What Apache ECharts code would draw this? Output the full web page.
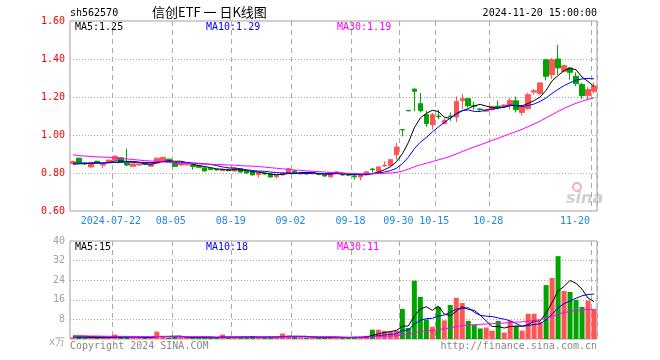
<!DOCTYPE html>
<html><head><meta charset="utf-8">
<script src="https://cdn.jsdelivr.net/npm/echarts@6/dist/echarts.min.js"></script>
<style>html,body{margin:0;padding:0;background:#fff}#c{width:660px;height:360px}</style>
</head><body><div id="c"></div>
<script>
const dates = ['07-11','07-12','07-15','07-16','07-17','07-18','07-19','07-22','07-23','07-24','07-25','07-26','07-29','07-30','07-31',
'08-01','08-02','08-05','08-06','08-07','08-08','08-09','08-12','08-13','08-14','08-15','08-16','08-19','08-20','08-21','08-22','08-23','08-26','08-27','08-28','08-29','08-30',
'09-02','09-03','09-04','09-05','09-06','09-09','09-10','09-11','09-12','09-13','09-18','09-19','09-20','09-23','09-24','09-25','09-26','09-27','09-30',
'10-08','10-09','10-10','10-11','10-14','10-15','10-16','10-17','10-18','10-21','10-22','10-23','10-24','10-25','10-28','10-29','10-30','10-31',
'11-01','11-04','11-05','11-06','11-07','11-08','11-11','11-12','11-13','11-14','11-15','11-18','11-19','11-20'];

const openP = [.850,.878,.853,.832,.862,.842,.855,.869,.880,.853, .835,.842,.852,.836,.852,.862,.873,.852,.842,.843,
.843,.837,.827,.825,.818,.812,.820,.810,.822,.808, .805,.792,.800,.796,.780,.790,.801,.811,.795,.800,
.796,.798,.790,.780,.797,.796,.792,.785,.779,.791, .821,.809,.837,.839,.896,1.029,1.129,1.242,1.165,1.107,
1.054,1.100,1.060,1.100,1.095,1.182,1.191,1.154,1.137,1.125, 1.133,1.152,1.151,1.154,1.180,1.119,1.139,1.226,1.218,1.396,
1.317,1.400,1.335,1.353,1.309,1.265,1.207,1.230];
const closeP = [.860,.855,.848,.856,.853,.848,.868,.888,.858,.842, .848,.848,.846,.848,.878,.882,.865,.835,.848,.847,
.834,.830,.811,.818,.816,.820,.812,.826,.805,.800, .790,.804,.795,.779,.789,.800,.822,.797,.800,.795,
.800,.792,.784,.801,.806,.790,.788,.780,.791,.806, .818,.832,.840,.870,.937,1.027,1.127,1.230,1.128,1.060,
1.107,1.096,1.077,1.096,1.177,1.191,1.154,1.151,1.133,1.133, 1.151,1.149,1.158,1.182,1.133,1.147,1.212,1.233,1.274,1.309,
1.396,1.353,1.365,1.330,1.270,1.207,1.239,1.258];
const lowP = [.848,.852,.842,.828,.850,.826,.852,.866,.855,.835, .832,.840,.842,.834,.850,.860,.862,.832,.840,.841,
.817,.828,.808,.815,.813,.810,.810,.808,.803,.797, .787,.776,.790,.776,.771,.786,.798,.795,.792,.792,
.793,.788,.780,.777,.795,.785,.784,.765,.761,.789, .803,.795,.832,.836,.870,.993,1.127,1.125,1.119,1.042,
1.028,1.084,1.056,1.075,1.067,1.137,1.145,1.133,1.128,1.120, 1.130,1.135,1.148,1.135,1.119,1.102,1.133,1.212,1.212,1.288,
1.295,1.317,1.330,1.291,1.258,1.189,1.182,1.218];
const highP = [.865,.880,.856,.858,.864,.850,.870,.892,.882,.928, .850,.850,.854,.850,.880,.885,.875,.853,.850,.849,
.845,.840,.830,.826,.820,.823,.822,.828,.824,.810, .807,.806,.802,.798,.792,.802,.825,.813,.803,.802,
.802,.800,.792,.803,.808,.798,.794,.800,.795,.809, .826,.835,.861,.872,.958,1.029,1.129,1.243,1.221,1.128,
1.116,1.133,1.089,1.119,1.203,1.218,1.195,1.175,1.142,1.137, 1.153,1.182,1.160,1.195,1.203,1.159,1.221,1.242,1.277,1.400,
1.405,1.475,1.370,1.358,1.330,1.274,1.251,1.277];

const volume = [0.7,0.9,0.5,0.6,0.5,0.5,0.6,1.8,0.8,0.9, 0.6,0.5,0.4,0.5,3.0,0.9,0.6,0.8,0.6,0.5,
0.6,0.6,0.7,0.5,0.5,1.8,0.6,0.7,0.6,0.7, 1.2,0.7,0.6,0.7,0.6,2.2,1.4,0.8,0.6,0.5,
0.6,0.5,0.5,0.8,0.7,0.5,0.5,0.9,0.9,1.3, 3.8,3.8,3.3,3.0,3.5,12.3,4.5,23.8,17.2,8.0,
5.0,13.1,7.6,13.9,16.8,14.7,7.4,5.7,4.3,4.7, 3.4,7.4,2.6,7.4,5.4,3.4,10.3,10.3,7.0,22.0,
24.9,33.8,19.6,19.2,16.0,13.1,15.7,12.3];

const ma5 = [.846,.848,.850,.851,.854,.852,.855,.863,.863,.861, .861,.857,.848,.846,.854,.860,.864,.862,.862,.855,
.846,.839,.834,.828,.822,.819,.815,.818,.816,.813, .807,.805,.799,.794,.791,.793,.797,.797,.802,.803,
.803,.797,.794,.794,.797,.795,.794,.793,.791,.791, .797,.805,.817,.833,.859,.901,.960,1.038,1.090,1.114,
1.130,1.124,1.094,1.087,1.111,1.127,1.139,1.154,1.161,1.152, 1.144,1.143,1.145,1.155,1.155,1.154,1.166,1.181,1.200,1.235,
1.285,1.313,1.339,1.351,1.343,1.305,1.282,1.255];
const ma10 = [.852,.852,.851,.851,.852,.853,.854,.855,.856,.858, .856,.856,.856,.855,.857,.861,.860,.855,.854,.855,
.853,.851,.848,.845,.839,.832,.827,.826,.822,.817, .813,.810,.809,.805,.802,.800,.801,.798,.798,.797,
.798,.797,.796,.798,.800,.799,.795,.794,.793,.794, .796,.800,.805,.812,.825,.849,.883,.928,.962,.987,
1.016,1.042,1.066,1.089,1.113,1.129,1.132,1.124,1.124,1.132, 1.136,1.141,1.149,1.158,1.154,1.149,1.155,1.163,1.177,1.195,
1.219,1.240,1.260,1.275,1.289,1.295,1.298,1.295];
const ma30 = [.896,.891,.889,.887,.885,.884,.882,.880,.877,.874, .871,.868,.865,.863,.861,.858,.856,.853,.852,.851,
.850,.848,.847,.846,.845,.844,.842,.841,.839,.837, .836,.834,.831,.828,.825,.822,.819,.816,.814,.811,
.809,.807,.805,.803,.802,.800,.798,.797,.796,.796, .796,.797,.798,.800,.803,.810,.820,.833,.843,.851,
.860,.869,.878,.888,.900,.913,.925,.937,.948,.960, .972,.983,.995,1.007,1.018,1.030,1.044,1.058,1.073,1.090,
1.107,1.124,1.140,1.154,1.167,1.178,1.188,1.195];

const vma5 = [.8,.75,.7,.65,.64,.6,.54,.8,.84,.92, .94,.92,.64,.58,1.0,1.06,1.08,1.16,1.18,.68,
.62,.62,.6,.58,.58,.82,.82,.82,.84,.88, .76,.78,.76,.78,.76,.96,1.1,1.14,1.12,1.1,
.78,.6,.54,.58,.62,.6,.6,.68,.7,.82, 1.48,2.14,2.62,3.04,3.48,5.18,5.32,9.42,12.26,13.16,
11.7,13.42,10.18,9.52,11.28,13.22,12.08,11.7,9.78,7.36, 5.1,5.1,4.48,5.1,5.24,5.24,5.82,7.36,7.28,10.6,
14.9,19.6,21.46,23.9,22.7,20.34,16.72,15.26];
const vma10 = [1.2,1.15,1.1,1.0,.95,.9,.85,.85,.8,.78, .77,.73,.72,.71,.96,1.0,1.0,.9,.88,.84,
.84,.85,.88,.88,.63,.72,.72,.71,.71,.73, .79,.8,.79,.81,.82,.86,.94,.95,.95,.93,
.87,.85,.84,.85,.86,.69,.6,.61,.64,.72, 1.04,1.37,1.65,1.87,2.15,3.33,3.73,6.02,7.65,8.32,
8.44,9.37,9.8,10.89,12.22,12.46,12.75,10.94,9.65,9.32, 9.16,8.59,8.09,7.44,6.3,5.17,5.46,5.92,6.19,7.92,
10.07,12.71,14.41,15.59,16.65,17.62,18.16,18.36];
const vma30 = [1.3,1.3,1.25,1.2,1.2,1.15,1.1,1.1,1.1,1.05, 1.05,1.0,1.0,1.0,1.0,.95,.95,.9,.9,.9,
.88,.86,.85,.84,.82,.82,.8,.8,.79,.78, .8,.79,.8,.8,.8,.86,.89,.85,.85,.83,
.83,.83,.84,.85,.77,.76,.75,.76,.77,.79, .9,1.01,1.09,1.18,1.28,1.63,1.76,2.53,3.08,3.32,
3.45,3.86,4.1,4.54,5.08,5.49,5.69,5.86,5.98,6.12, 6.21,6.44,6.51,6.73,6.89,6.99,7.31,7.63,7.83,8.52,
9.22,10.22,10.77,11.31,11.72,11.75,12.12,11.74];

const tickDates = ['07-22','08-05','08-19','09-02','09-18','09-30','10-15','10-28','11-20'];
const tickTexts = ['2024-07-22','08-05','08-19','09-02','09-18','09-30','10-15','10-28','11-20'];

const RED = '#ff5555', GREEN = '#00a400';
const MONO = '"DejaVu Sans Mono", monospace';
const fl2 = v => (Math.floor(v * 100 + 1e-6) / 100).toFixed(2);
const fl0 = v => String(Math.floor(v));

const chart = echarts.init(document.getElementById('c'), null, {renderer: 'canvas'});
const isTick = (i, v) => tickDates.indexOf(v) >= 0;
const splitV = {show: true, interval: isTick, lineStyle: {type: [5, 4], color: '#aaaaaa', width: 1}};
const splitH = {show: true, showMinLine: false, showMaxLine: false, lineStyle: {type: [1, 2], color: '#aaaaaa', width: 1}};

const labelStyle = {fontFamily: MONO, fontSize: 10, color: '#2288dd'};
const volLabel = {fontFamily: MONO, fontSize: 10, color: '#a0a0a0'};

const option = {
  animation: false,
  backgroundColor: '#fff',
  grid: [
    {left: 70, top: 21, width: 527, height: 190, show: true, borderColor: '#a0a0a0', borderWidth: 1, backgroundColor: 'transparent'},
    {left: 70, top: 241, width: 527, height: 98, show: true, borderColor: '#a0a0a0', borderWidth: 1, backgroundColor: 'transparent'}
  ],
  xAxis: [
    {type: 'category', gridIndex: 0, data: dates, boundaryGap: true,
     axisLine: {show: false}, axisTick: {show: false}, splitLine: splitV,
     axisLabel: {interval: isTick, margin: 5, fontFamily: MONO, fontSize: 10, color: '#2288dd',
       formatter: v => {
         const k = tickDates.indexOf(v);
         return k === tickDates.length - 1 ? '{e|' + tickTexts[k] + '}' : '{n|' + tickTexts[k] + '}';
       },
       rich: {n: Object.assign({padding: [0, 8, 0, 0]}, labelStyle), e: Object.assign({padding: [0, 38, 0, 0]}, labelStyle)}}},
    {type: 'category', gridIndex: 1, data: dates, boundaryGap: true,
     axisLine: {show: false}, axisTick: {show: false}, axisLabel: {show: false}, splitLine: splitV}
  ],
  yAxis: [
    {type: 'value', gridIndex: 0, min: 0.6, max: 1.6, interval: 0.2, scale: false,
     axisLine: {show: false}, axisTick: {show: false}, splitLine: splitH,
     axisLabel: {margin: 5, color: '#ff0000', fontFamily: MONO, fontSize: 10, formatter: v => v.toFixed(2)}},
    {type: 'value', gridIndex: 1, min: 0, max: 40, interval: 8,
     axisLine: {show: false}, axisTick: {show: false}, splitLine: splitH,
     axisLabel: {margin: 5, color: '#a0a0a0', fontFamily: MONO, fontSize: 10,
       formatter: v => v === 0 ? '{z|x万}' : '{v|' + v + '}',
       rich: {z: Object.assign({padding: [6, 0, 0, 0]}, volLabel), v: volLabel}}}
  ],
  series: [
    {type: 'candlestick', xAxisIndex: 0, yAxisIndex: 0, barWidth: 5,
     data: dates.map((d, i) => [openP[i], closeP[i], lowP[i], highP[i]]),
     itemStyle: {color: RED, color0: GREEN, borderColor: RED, borderColor0: GREEN, borderWidth: 1}},
    {type: 'line', xAxisIndex: 0, yAxisIndex: 0, data: ma5, symbol: 'none', lineStyle: {color: '#000', width: 1}},
    {type: 'line', xAxisIndex: 0, yAxisIndex: 0, data: ma10, symbol: 'none', lineStyle: {color: '#0000ff', width: 1}},
    {type: 'line', xAxisIndex: 0, yAxisIndex: 0, data: ma30, symbol: 'none', lineStyle: {color: '#ff00ff', width: 1}},
    {type: 'bar', xAxisIndex: 1, yAxisIndex: 1, barWidth: 5,
     data: volume.map((v, i) => ({value: v, itemStyle: {color: closeP[i] > openP[i] ? RED : GREEN}}))},
    {type: 'line', xAxisIndex: 1, yAxisIndex: 1, data: vma5, symbol: 'none', lineStyle: {color: '#000', width: 1}},
    {type: 'line', xAxisIndex: 1, yAxisIndex: 1, data: vma10, symbol: 'none', lineStyle: {color: '#0000ff', width: 1}},
    {type: 'line', xAxisIndex: 1, yAxisIndex: 1, data: vma30, symbol: 'none', lineStyle: {color: '#ff00ff', width: 1}}
  ],
  graphic: [
    {type: 'text', x: 70, y: 13, style: {text: 'sh562570', font: '10px ' + MONO, fill: '#000', verticalAlign: 'middle'}},
    {type: 'text', x: 152, y: 12, style: {text: '信创ETF 一 日K线图', font: '13px "Noto Sans CJK SC"', fill: '#000', verticalAlign: 'middle'}},
    {type: 'text', x: 597, y: 13, style: {text: '2024-11-20 15:00:00', font: '10px ' + MONO, fill: '#000', align: 'right', verticalAlign: 'middle'}},
    {type: 'text', x: 75, y: 27, style: {text: 'MA5:' + fl2(ma5[ma5.length - 1]), font: '10px ' + MONO, fill: '#000', verticalAlign: 'middle'}},
    {type: 'text', x: 206, y: 27, style: {text: 'MA10:' + fl2(ma10[ma10.length - 1]), font: '10px ' + MONO, fill: '#0000ff', verticalAlign: 'middle'}},
    {type: 'text', x: 337, y: 27, style: {text: 'MA30:' + fl2(ma30[ma30.length - 1]), font: '10px ' + MONO, fill: '#ff00ff', verticalAlign: 'middle'}},
    {type: 'text', x: 75, y: 247, style: {text: 'MA5:' + fl0(vma5[vma5.length - 1]), font: '10px ' + MONO, fill: '#000', verticalAlign: 'middle'}},
    {type: 'text', x: 206, y: 247, style: {text: 'MA10:' + fl0(vma10[vma10.length - 1]), font: '10px ' + MONO, fill: '#0000ff', verticalAlign: 'middle'}},
    {type: 'text', x: 337, y: 247, style: {text: 'MA30:' + fl0(vma30[vma30.length - 1]), font: '10px ' + MONO, fill: '#ff00ff', verticalAlign: 'middle'}},
    {type: 'text', x: 70, y: 346, style: {text: 'Copyright 2024 SINA.COM', font: '10px ' + MONO, fill: '#888', verticalAlign: 'middle'}},
    {type: 'text', x: 597, y: 346, style: {text: 'http://finance.sina.com.cn', font: '10px ' + MONO, fill: '#888', align: 'right', verticalAlign: 'middle'}},
    {type: 'circle', shape: {cx: 577, cy: 187, r: 4}, style: {fill: 'none', stroke: '#f3b0b0', lineWidth: 2}},
    {type: 'text', x: 566, y: 199, style: {text: 'sina', font: 'italic bold 16px "DejaVu Sans"', fill: '#cfcfcf', verticalAlign: 'middle'}}
  ]
};
chart.setOption(option);
</script></body></html>
